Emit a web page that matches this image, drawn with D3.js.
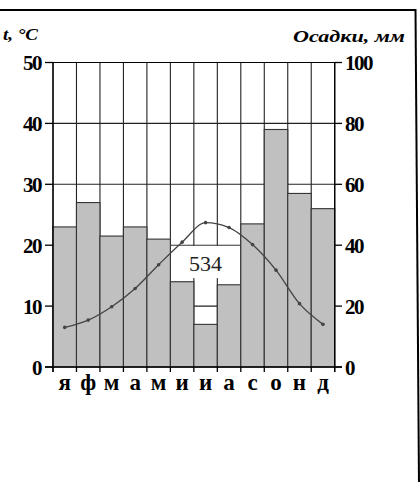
<!DOCTYPE html>
<html><head><meta charset="utf-8">
<script src="https://cdn.jsdelivr.net/npm/d3@7/dist/d3.min.js"></script>
<style>
html,body{margin:0;padding:0;background:#fff;}
svg{display:block;}
text{font-family:"Liberation Serif","Times New Roman",serif;}
</style></head>
<body>
<svg id="c" width="420" height="482"></svg>
<script>
const months = ["я","ф","м","а","м","и","и","а","с","о","н","д"];
const precip = [46,54,43,46,42,28,14,27,47,78,57,52];
const temp = [6.5,7.7,9.9,12.9,16.8,20.5,23.7,22.9,20.1,15.9,10.4,7.0];
const tempTicks = [0,10,20,30,40,50];
const precipTicks = [0,20,40,60,80,100];
const totalLabel = "534";
const leftTitle = "t, °C";
const rightTitle = "Осадки, мм";

const svg = d3.select("#c");
const L = 53, R = 334.7, T = 62.5, B = 367;

const x = d3.scaleBand().domain(d3.range(12)).range([L, R]).paddingInner(0).paddingOuter(0);
const yT = d3.scaleLinear().domain([0,50]).range([B, T]);
const yP = d3.scaleLinear().domain([0,100]).range([B, T]);

// frame of the picture
svg.append("line").attr("x1",0).attr("x2",416).attr("y1",10).attr("y2",10).attr("stroke","#000").attr("stroke-width",2);
svg.append("line").attr("x1",415.5).attr("x2",419).attr("y1",9).attr("y2",482).attr("stroke","#000").attr("stroke-width",2);

// horizontal grid lines
svg.append("g").selectAll("line").data(tempTicks.filter(d=>d>0)).join("line")
  .attr("x1",L).attr("x2",R).attr("y1",d=>yT(d)).attr("y2",d=>yT(d))
  .attr("stroke","#222").attr("stroke-width",1.1);

// column lines (full height)
const bounds = d3.range(13).map(i => i<12 ? x(i) : R);
svg.append("g").selectAll("line").data(bounds).join("line")
  .attr("x1",d=>d).attr("x2",d=>d).attr("y1",T).attr("y2",B)
  .attr("stroke","#222").attr("stroke-width",1.1);

// precipitation bars
svg.append("g").selectAll("rect").data(precip).join("rect")
  .attr("x",(d,i)=>x(i)).attr("width",x.bandwidth())
  .attr("y",d=>yP(d)).attr("height",d=>B-yP(d))
  .attr("fill","#c0c0c0").attr("stroke","#333").attr("stroke-width",1.1);

// white label box
svg.append("rect").attr("x",x(5)+0.8).attr("width",x(7)+x.bandwidth()-x(5)-1.6)
  .attr("y",yT(20)+0.7).attr("height",yT(14.6)-yT(20)-0.7).attr("fill","#fff");
svg.append("text").attr("x",x(6)+x.bandwidth()/2).attr("y",yT(17.1)).attr("dy","0.35em")
  .attr("text-anchor","middle").attr("font-size",22).attr("fill","#222").text(totalLabel);

// temperature curve
const line = d3.line().x((d,i)=>x(i)+x.bandwidth()/2).y(d=>yT(d)).curve(d3.curveMonotoneX);
svg.append("path").datum(temp).attr("d",line).attr("fill","none").attr("stroke","#444").attr("stroke-width",1.3);
svg.append("g").selectAll("circle").data(temp).join("circle")
  .attr("cx",(d,i)=>x(i)+x.bandwidth()/2).attr("cy",d=>yT(d)).attr("r",1.8).attr("fill","#444");

// axes
svg.append("line").attr("x1",L).attr("x2",L).attr("y1",T).attr("y2",B+5).attr("stroke","#000").attr("stroke-width",1.3);
svg.append("line").attr("x1",R).attr("x2",R).attr("y1",T).attr("y2",B+5).attr("stroke","#000").attr("stroke-width",1.3);
svg.append("line").attr("x1",45).attr("x2",342).attr("y1",B).attr("y2",B).attr("stroke","#000").attr("stroke-width",1.3);
svg.append("line").attr("x1",45).attr("x2",R).attr("y1",T).attr("y2",T).attr("stroke","#000").attr("stroke-width",1.1);
svg.append("g").selectAll("line").data(bounds).join("line")
  .attr("x1",d=>d).attr("x2",d=>d).attr("y1",B).attr("y2",B+5).attr("stroke","#000").attr("stroke-width",1.3);

// left ticks
svg.append("g").selectAll("line").data(tempTicks).join("line")
  .attr("x1",45).attr("x2",L).attr("y1",d=>yT(d)).attr("y2",d=>yT(d)).attr("stroke","#000").attr("stroke-width",1.3);
svg.append("g").selectAll("text").data(tempTicks).join("text")
  .attr("x",41).attr("y",d=>yT(d)).attr("dy","0.36em").attr("text-anchor","end")
  .attr("font-size",21).attr("font-weight","bold").attr("letter-spacing","-1.5").text(d=>d);
// right ticks
svg.append("g").selectAll("line").data(precipTicks).join("line")
  .attr("x1",R).attr("x2",342).attr("y1",d=>yP(d)).attr("y2",d=>yP(d)).attr("stroke","#000").attr("stroke-width",1.3);
svg.append("g").selectAll("text").data(precipTicks).join("text")
  .attr("x",345).attr("y",d=>yP(d)).attr("dy","0.36em").attr("text-anchor","start")
  .attr("font-size",21).attr("font-weight","bold").attr("letter-spacing","-1.5").text(d=>d);

// month labels
svg.append("g").selectAll("text").data(months).join("text")
  .attr("x",(d,i)=>x(i)+x.bandwidth()/2).attr("y",390).attr("text-anchor","middle")
  .attr("font-size",23).attr("font-weight","bold").text(d=>d);

// titles
svg.append("text").attr("x",3).attr("y",40).attr("font-size",17).attr("font-weight","bold")
  .attr("font-style","italic").attr("textLength",35).attr("lengthAdjust","spacingAndGlyphs").text(leftTitle);
svg.append("text").attr("x",293).attr("y",42).attr("font-size",17).attr("font-weight","bold")
  .attr("font-style","italic").attr("textLength",112).attr("lengthAdjust","spacingAndGlyphs").text(rightTitle);
</script>
</body></html>
